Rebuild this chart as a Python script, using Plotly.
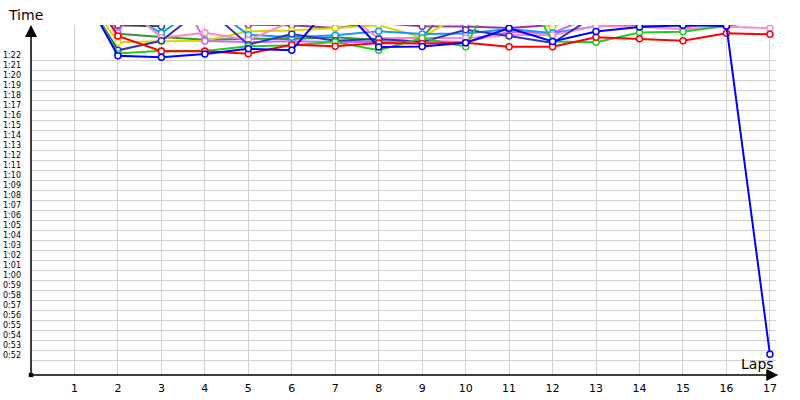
import plotly.graph_objects as go

laps = list(range(1, 18))

# lap times in seconds, one list per driver (line colour)
red_times = [90.55, 83.95, 82.42, 82.42, 82.18, 83.08, 82.92, 83.25, 83.2, 83.28, 82.88, 82.88, 83.82, 83.68, 83.48, 84.22, 84.12]
green_times = [90.05, 82.2, 82.48, 82.45, 82.92, 83.02, 83.35, 82.52, 83.75, 82.88, 91.05, 83.4, 83.32, 84.3, 84.38, 85.0, 85.55]
blue_times = [89.85, 81.98, 81.82, 82.15, 82.68, 82.52, 87.55, 82.85, 82.9, 83.28, 84.72, 83.4, 84.4, 84.85, 85.02, 84.95, 52.12]
navy_times = [89.55, 82.52, 83.48, 86.85, 83.08, 84.15, 83.48, 83.65, 83.35, 84.58, 83.95, 83.25, 86.05, 87.05, 87.05, 87.05, 87.05]
lightblue_times = [90.55, 86.55, 84.25, 87.25, 84.08, 83.82, 84.02, 84.42, 84.15, 84.2, 84.65, 84.25, 84.92, 85.02, 84.98, 85.55, 86.05]
pink_times = [90.55, 87.55, 83.78, 84.28, 83.55, 85.39, 86.9, 83.72, 83.75, 83.75, 84.05, 84.05, 84.95, 84.88, 84.62, 84.88, 84.72]
violet_times = [90.55, 84.25, 91.55, 83.45, 83.35, 83.42, 83.35, 83.35, 83.45, 83.35, 84.35, 84.25, 86.05, 86.55, 84.75, 85.55, 86.05]
purple_times = [90.55, 87.55, 87.55, 86.55, 85.08, 85.02, 84.75, 85.25, 84.92, 84.9, 84.75, 85.05, 86.55, 87.05, 87.05, 87.05, 87.05]
yellow_times = [89.55, 83.32, 83.42, 83.48, 84.42, 84.5, 84.75, 85.02, 83.82, 86.35, 85.95, 84.85, 86.55, 87.05, 87.05, 87.05, 87.05]
darkgreen_times = [90.05, 84.18, 83.85, 83.58, 83.68, 83.65, 83.82, 83.55, 83.82, 88.55, 88.55, 88.55, 88.55, 88.55, 88.55, 88.55, 88.55]
gray_times = [90.05, 85.02, 84.92, 87.55, 88.05, 88.05, 88.05, 88.05, 88.05, 88.05, 88.05, 88.05, 88.05, 88.05, 88.05, 88.05, 88.05]

tick_seconds = list(range(52, 83))
tick_labels = ["%d:%02d" % (s // 60, s % 60) for s in tick_seconds]

series = [
    (gray_times, "#444444"),
    (darkgreen_times, "#339933"),
    (purple_times, "#993399"),
    (yellow_times, "#d8d800"),
    (violet_times, "#cc66ff"),
    (lightblue_times, "#1199ff"),
    (pink_times, "#ff88c8"),
    (navy_times, "#3333bb"),
    (green_times, "#22cc22"),
    (red_times, "#ff0000"),
    (blue_times, "#0000ff"),
]

fig = go.Figure()
for times, color in series:
    fig.add_trace(go.Scatter(
        x=laps, y=times, mode="lines+markers",
        line=dict(color=color, width=2),
        marker=dict(size=6, color="white", line=dict(color=color, width=1.5)),
        hoverinfo="skip",
    ))

fig.update_layout(
    width=800, height=400,
    margin=dict(l=31, r=24, t=25, b=25, autoexpand=False),
    plot_bgcolor="white", paper_bgcolor="white",
    showlegend=False,
    font=dict(family="DejaVu Sans", color="black"),
    xaxis=dict(
        range=[0, 17.14], tickvals=laps, showgrid=True, gridcolor="#d0d0d0", gridwidth=1,
        zeroline=False, showline=False, ticks="", tickfont=dict(size=11),
        ticklabelstandoff=5, automargin=False,
    ),
    yaxis=dict(
        range=[50.05, 85.05], tickvals=tick_seconds, ticktext=tick_labels,
        showgrid=False, zeroline=False, showline=False, ticks="",
        tickfont=dict(size=8), ticklabelstandoff=9, automargin=False,
        minor=dict(tickvals=[s - 0.45 for s in tick_seconds], showgrid=True,
                   gridcolor="#d0d0d0", gridwidth=1, ticks=""),
    ),
)

# axis lines with arrow heads
fig.add_annotation(x=0, y=1, xref="paper", yref="paper", ax=0, ay=350, text="",
                   showarrow=True, arrowhead=2, arrowsize=1.6, arrowwidth=1.5, arrowcolor="black")
fig.add_annotation(x=1.003, y=0, xref="paper", yref="paper", ax=-748, ay=0, text="",
                   showarrow=True, arrowhead=2, arrowsize=1.6, arrowwidth=1.5, arrowcolor="black")
fig.add_shape(type="rect", xref="paper", yref="paper", x0=-0.003, x1=0.003, y0=-0.006, y1=0.006,
              fillcolor="black", line=dict(width=0))

fig.add_annotation(x=0, y=1, xref="paper", yref="paper", text="Time", showarrow=False,
                   xanchor="center", yanchor="bottom", xshift=-6, yshift=0,
                   font=dict(size=14, color="#200000"))
fig.add_annotation(x=1, y=0, xref="paper", yref="paper", text="Laps", showarrow=False,
                   xanchor="right", yanchor="bottom", yshift=1,
                   font=dict(size=14, color="black"))

fig.write_html("out.html", config={"displayModeBar": False},
               post_script="document.body.style.margin='0';")
